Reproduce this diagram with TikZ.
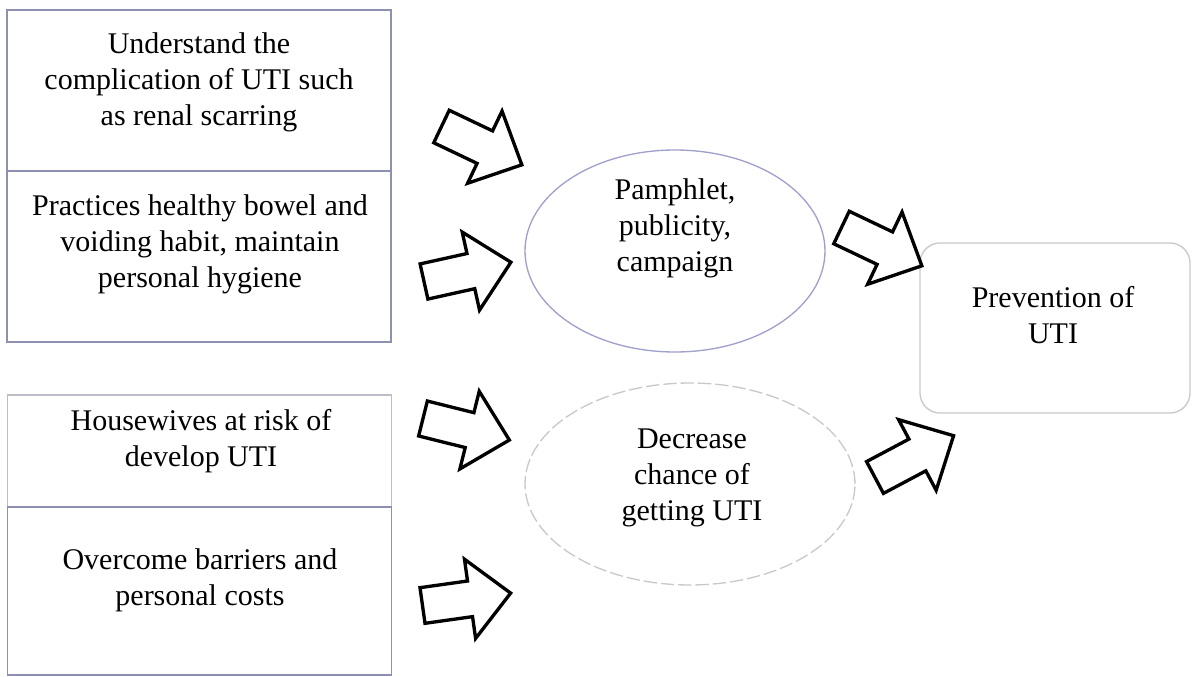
\documentclass[tikz,border=0pt]{standalone}
\usepackage{fontspec}
\setmainfont{Liberation Serif}
\usetikzlibrary{shapes.geometric}
\definecolor{boxline}{RGB}{140,145,178}
\definecolor{ellline}{RGB}{160,160,205}
\definecolor{faintline}{RGB}{200,200,205}
\tikzset{
  boxnode/.style={draw=boxline, line width=0.9pt, rectangle, minimum width=288pt, inner sep=0pt},
  txt/.style={align=center, font=\fontsize{22.5pt}{27pt}\selectfont, inner sep=0pt},
  ellnode/.style={ellipse, inner sep=0pt, line width=1pt},
  pics/bigarrow/.style={code={
    \draw[line width=2.5pt, line join=miter, fill=white]
      (0,-18) -- (48,-18) -- (48,-40) -- (89,0) -- (48,40) -- (48,18) -- (0,18) -- cycle;}}
}
\begin{document}
\begin{tikzpicture}[x=0.75pt,y=-0.75pt]
\useasboundingbox (0,0) rectangle (1196,677);

% left boxes
\node[boxnode, minimum height=120.75pt] (boxA) at (199,90.5) {};
\node[boxnode, minimum height=128.25pt] (boxB) at (199,256.5) {};
\node[boxnode, minimum height=84pt, draw=faintline!80!boxline] (boxC) at (199.5,451) {};
\node[boxnode, minimum height=126pt] (boxD) at (199.5,591) {};
\draw[boxline, line width=0.9pt] (boxC.south west) -- (boxC.south east);

\node[txt] (tA) at (199,82.5) {Understand the\\complication of UTI such\\as renal scarring};
\node[txt] (tB) at (200,244.5) {Practices healthy bowel and\\voiding habit, maintain\\personal hygiene};
\node[txt] (tC) at (201,441.5) {Housewives at risk of\\develop UTI};
\node[txt] (tD) at (200,580) {Overcome barriers and\\personal costs};

% ellipses
\node[ellnode, draw=ellline, minimum width=225pt, minimum height=151.5pt] (e1) at (675,251) {};
\node[ellnode, draw=faintline, dashed, dash pattern=on 10pt off 3pt, minimum width=247.5pt, minimum height=151.5pt] (e2) at (690,484) {};
\node[txt] (te1) at (675,228) {Pamphlet,\\publicity,\\campaign};
\node[txt] (te2) at (692,478) {Decrease\\chance of\\getting UTI};

% prevention box
\node[draw=faintline, line width=1pt, rounded corners=15pt, minimum width=202.5pt, minimum height=127.5pt, inner sep=0pt] (prev) at (1055,328) {};
\node[txt] (tprev) at (1053,315) {Prevention of\\UTI};

% block arrows
\pic[rotate=-25.5] at (441.5,126.5) {bigarrow};
\pic[rotate=12.5] at (424,281.5) {bigarrow};
\pic[rotate=-14] at (423,418.5) {bigarrow};
\pic[rotate=8] at (422.5,605.5) {bigarrow};
\pic[rotate=-25.5] at (841.5,227.5) {bigarrow};
\pic[rotate=28] at (875,477.5) {bigarrow};
\end{tikzpicture}
\end{document}
